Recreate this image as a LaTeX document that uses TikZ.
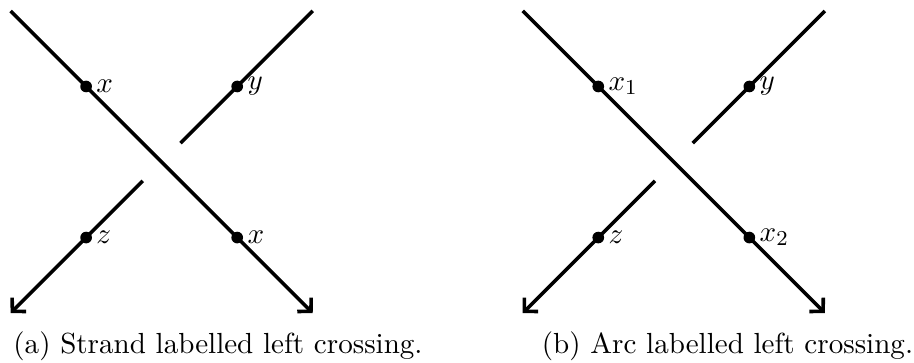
\documentclass[tikz,border=0pt]{standalone}
\usetikzlibrary{arrows.meta,positioning}
\tikzset{
  strand/.style={line width=1.35pt, >={Straight Barb[length=3.6pt,width=7.4pt]}},
  dot/.style={circle, fill, inner sep=0pt, minimum size=4.4pt},
  lbl/.style={inner sep=1.3pt, font=\fontsize{10.95}{13.6}\selectfont},
  capt/.style={anchor=base, inner sep=0pt, font=\fontsize{10.95}{13.6}\selectfont},
}

\begin{document}
\begin{tikzpicture}
  \useasboundingbox (0,0) rectangle (12.10,4.805);

  % (a) strand labelled crossing
  \begin{scope}[shift={(0.14,0.66)}]
    \coordinate (a-bl) at (0,0);
    \coordinate (a-br) at (4,0);
    \coordinate (a-tl) at (0,4);
    \coordinate (a-tr) at (4,4);
    \coordinate (a-gu) at (2.25,2.25);
    \coordinate (a-gd) at (1.75,1.75);
    % over strand
    \draw[strand, ->] (a-tl) -- (a-br);
    % under strand, broken at the crossing
    \draw[strand] (a-tr) -- (a-gu);
    \draw[strand, ->] (a-gd) -- (a-bl);
    % labelled points
    \node[dot, label={[lbl]right:$x$}] (a-x) at (1,3) {};
    \node[dot, label={[lbl]right:$y$}] (a-y) at (3,3) {};
    \node[dot, label={[lbl]right:$z$}] (a-z) at (1,1) {};
    \node[dot, label={[lbl]right:$x$}] (a-w) at (3,1) {};
  \end{scope}

  % (b) arc labelled crossing
  \begin{scope}[shift={(6.92,0.66)}]
    \coordinate (b-bl) at (0,0);
    \coordinate (b-br) at (4,0);
    \coordinate (b-tl) at (0,4);
    \coordinate (b-tr) at (4,4);
    \coordinate (b-gu) at (2.25,2.25);
    \coordinate (b-gd) at (1.75,1.75);
    % over strand
    \draw[strand, ->] (b-tl) -- (b-br);
    % under strand, broken at the crossing
    \draw[strand] (b-tr) -- (b-gu);
    \draw[strand, ->] (b-gd) -- (b-bl);
    % labelled points
    \node[dot, label={[lbl]right:$x_1$}] (b-x) at (1,3) {};
    \node[dot, label={[lbl]right:$y$}] (b-y) at (3,3) {};
    \node[dot, label={[lbl]right:$z$}] (b-z) at (1,1) {};
    \node[dot, label={[lbl]right:$x_2$}] (b-w) at (3,1) {};
  \end{scope}

  % captions
  \node[capt] (a-cap) at (2.886,0.12) {(a) Strand labelled left crossing.};
  \node[capt] (b-cap) at (9.631,0.12) {(b) Arc labelled left crossing.};
\end{tikzpicture}
\end{document}
